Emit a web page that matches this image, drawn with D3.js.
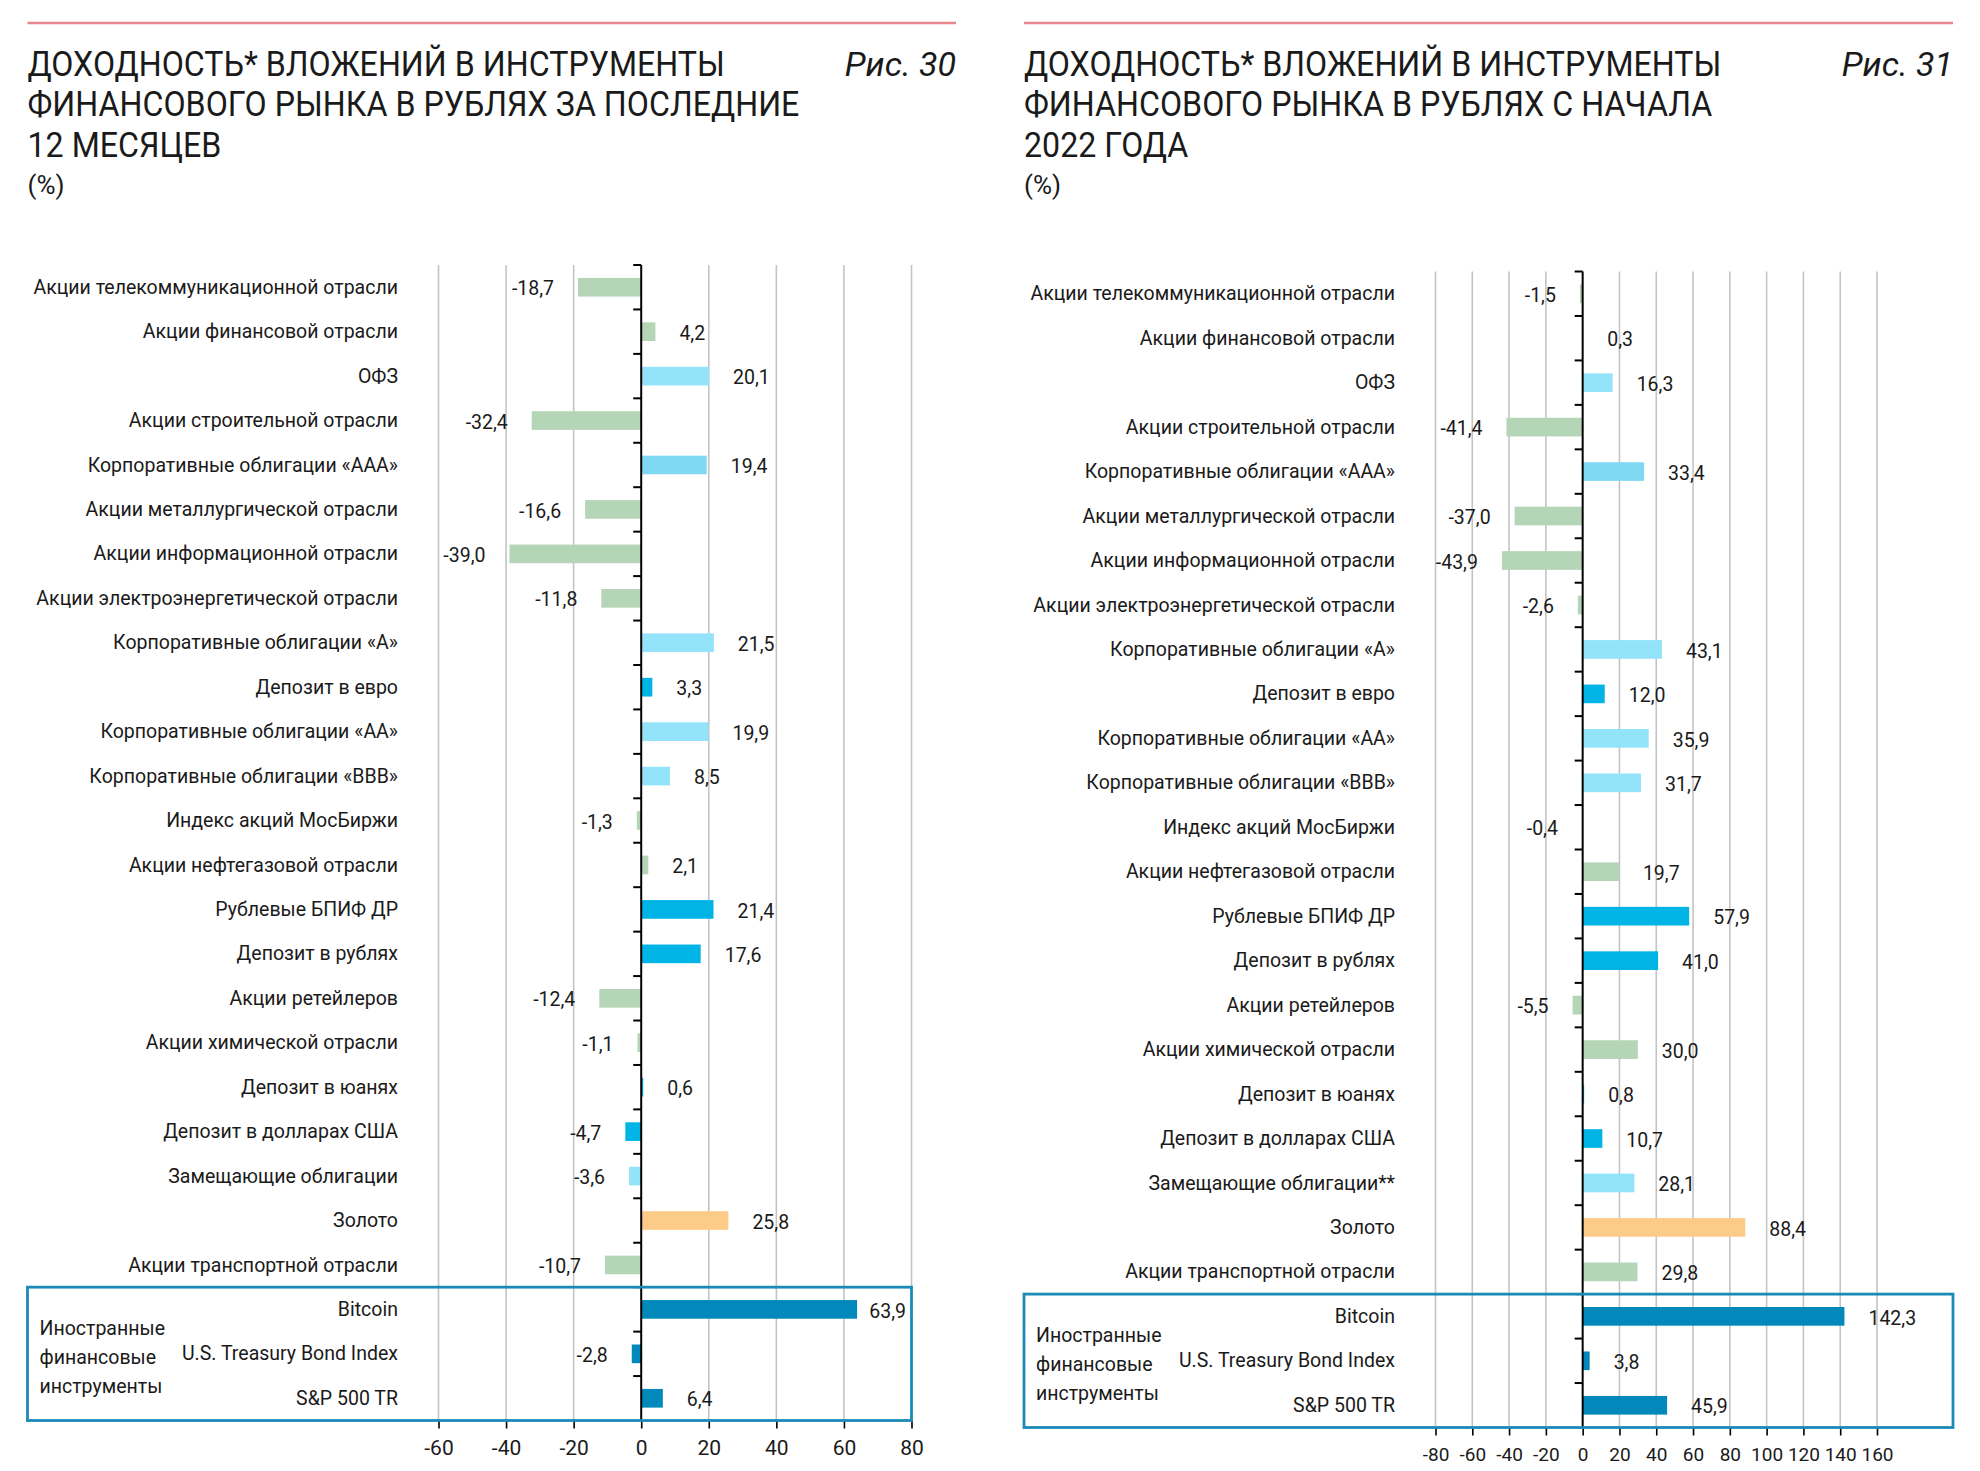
<!DOCTYPE html>
<html>
<head>
<meta charset="utf-8">
<script src="https://cdn.jsdelivr.net/npm/d3@7"></script>
<style>
  body { margin: 0; background: #fff; }
  svg text { fill: #1a1a1a; }
</style>
</head>
<body>
<svg id="chart" width="1980" height="1471"></svg>
<script>
// ---- data ----
const categories12m = [
  "Акции телекоммуникационной отрасли", "Акции финансовой отрасли", "ОФЗ",
  "Акции строительной отрасли", "Корпоративные облигации «AAA»",
  "Акции металлургической отрасли", "Акции информационной отрасли",
  "Акции электроэнергетической отрасли", "Корпоративные облигации «A»",
  "Депозит в евро", "Корпоративные облигации «AA»", "Корпоративные облигации «BBB»",
  "Индекс акций МосБиржи", "Акции нефтегазовой отрасли", "Рублевые БПИФ ДР",
  "Депозит в рублях", "Акции ретейлеров", "Акции химической отрасли",
  "Депозит в юанях", "Депозит в долларах США", "Замещающие облигации",
  "Золото", "Акции транспортной отрасли",
  "Bitcoin", "U.S. Treasury Bond Index", "S&P 500 TR"
];
const categoriesYtd = categories12m.map(c => c === "Замещающие облигации" ? "Замещающие облигации**" : c);

const returns12m = [-18.7, 4.2, 20.1, -32.4, 19.4, -16.6, -39.0, -11.8, 21.5, 3.3, 19.9, 8.5,
  -1.3, 2.1, 21.4, 17.6, -12.4, -1.1, 0.6, -4.7, -3.6, 25.8, -10.7, 63.9, -2.8, 6.4];
const returnsYtd = [-1.5, 0.3, 16.3, -41.4, 33.4, -37.0, -43.9, -2.6, 43.1, 12.0, 35.9, 31.7,
  -0.4, 19.7, 57.9, 41.0, -5.5, 30.0, 0.8, 10.7, 28.1, 88.4, 29.8, 142.3, 3.8, 45.9];

const assetClass = ["stock", "stock", "bond", "stock", "bondAAA", "stock", "stock", "stock",
  "bond", "deposit", "bond", "bond", "stock", "stock", "deposit", "deposit", "stock", "stock",
  "deposit", "deposit", "bond", "gold", "stock", "foreign", "foreign", "foreign"];

const foreignLabel = ["Иностранные", "финансовые", "инструменты"];
const ticks12m = [-60, -40, -20, 0, 20, 40, 60, 80];
const ticksYtd = [-80, -60, -40, -20, 0, 20, 40, 60, 80, 100, 120, 140, 160];

const svg = d3.select("#chart");
const labelFont = "Roboto, 'Noto Sans', sans-serif";
const numFont = "Roboto, 'Noto Sans', sans-serif";
const titleFont = "Roboto, 'Noto Sans', sans-serif";

const colour = d3.scaleOrdinal()
  .domain(["stock", "bond", "bondAAA", "deposit", "gold", "foreign"])
  .range(["#b5d5b7", "#93e4fa", "#80d9f2", "#00b5e6", "#fdcb88", "#0288ba"]);

const fmt = v => d3.format(".1f")(v).replace(".", ",").replace("−", "-");

function drawHeader(p) {
  const g = svg.append("g");
  g.append("line")
    .attr("x1", p.left).attr("x2", p.right)
    .attr("y1", 23).attr("y2", 23)
    .attr("stroke", "#e8858f").attr("stroke-width", 2.5);
  g.selectAll("text.title")
    .data(p.title)
    .enter().append("text")
      .attr("class", "title")
      .attr("transform", (d, i) => "translate(" + p.left + "," + (76 + i * 40.4) + ") scale(0.92,1)")
      .style("font-family", titleFont)
      .style("font-size", "35px")
      .text(d => d);
  g.append("text")
    .attr("x", p.right).attr("y", 76)
    .attr("text-anchor", "end")
    .style("font-family", titleFont)
    .style("font-size", "34px")
    .style("font-style", "italic")
    .text(p.fig);
  g.append("text")
    .attr("x", p.left).attr("y", 194)
    .style("font-family", titleFont)
    .style("font-size", "26px")
    .text("(%)");
}

function drawPanel(p, categories, values) {
  const g = svg.append("g");

  const x = d3.scaleLinear().domain(p.domain).range(p.range);
  const y = d3.scaleBand()
    .domain(categories)
    .range([p.top, p.bottom])
    .paddingInner(0.58).paddingOuter(0.29);
  const step = y.step();

  // vertical gridlines
  g.selectAll("line.grid")
    .data(p.ticks.filter(t => t !== 0))
    .enter().append("line")
      .attr("x1", d => x(d)).attr("x2", d => x(d))
      .attr("y1", p.top).attr("y2", p.bottom)
      .attr("stroke", "#c4c4c4").attr("stroke-width", 1.6);

  // bottom axis: ticks + labels only
  const axis = g.append("g")
    .attr("transform", "translate(0," + p.bottom + ")")
    .call(d3.axisBottom(x).tickValues(p.ticks).tickSize(8).tickPadding(12).tickFormat(d => String(d)));
  axis.select(".domain").remove();
  axis.selectAll(".tick line").attr("stroke", "#000").attr("stroke-width", 1.6);
  axis.selectAll(".tick text")
    .style("font-family", numFont).style("font-size", p.axisFont).attr("fill", "#1a1a1a");

  // bars
  g.selectAll("rect.bar")
    .data(values)
    .enter().append("rect")
      .attr("x", d => x(Math.min(0, d)))
      .attr("y", (d, i) => y(categories[i]))
      .attr("width", d => Math.abs(x(d) - x(0)))
      .attr("height", y.bandwidth())
      .attr("fill", (d, i) => colour(assetClass[i]));

  // zero axis with small ticks on the left
  g.append("line")
    .attr("x1", x(0)).attr("x2", x(0))
    .attr("y1", p.top).attr("y2", p.bottom)
    .attr("stroke", "#000").attr("stroke-width", 2);
  g.selectAll("line.ytick")
    .data(d3.range(categories.length))
    .enter().append("line")
      .attr("x1", x(0) - 8).attr("x2", x(0))
      .attr("y1", i => p.top + i * step).attr("y2", i => p.top + i * step)
      .attr("stroke", "#000").attr("stroke-width", 2);

  // category labels (font is a bit narrower in the original, hence the x-scale)
  g.selectAll("text.cat")
    .data(categories)
    .enter().append("text")
      .attr("transform", d => "translate(" + p.labelRight + "," + (y(d) + y.bandwidth() / 2 + 1) + ") scale(0.93,1)")
      .attr("text-anchor", "end")
      .attr("dominant-baseline", "middle")
      .style("font-family", labelFont)
      .style("font-size", "21px")
      .text(d => d);

  // value labels
  g.selectAll("text.val")
    .data(values)
    .enter().append("text")
      .attr("y", (d, i) => y(categories[i]) + y.bandwidth() / 2 + 3)
      .attr("dominant-baseline", "middle")
      .style("font-family", numFont)
      .style("font-size", "19.5px")
      .text(d => fmt(d))
      .each(function(d) {
        const w = this.getComputedTextLength();
        let tx = d >= 0 ? x(d) + 24 : x(d) - 24 - w;
        if (tx + w > p.labelMax) tx = p.labelMax - w;
        d3.select(this).attr("x", tx);
      });

  // frame for foreign instruments
  const n = categories.length;
  g.append("rect")
    .attr("x", p.left)
    .attr("y", p.top + (n - 3) * step)
    .attr("width", p.boxRight - p.left)
    .attr("height", 3 * step)
    .attr("fill", "none")
    .attr("stroke", "#1b8ab8").attr("stroke-width", 2.8);
  g.selectAll("text.grp")
    .data(foreignLabel)
    .enter().append("text")
      .attr("transform", (d, i) => "translate(" + (p.left + 12) + "," + (p.top + (n - 3) * step + 42 + i * 29) + ") scale(0.93,1)")
      .attr("dominant-baseline", "middle")
      .style("font-family", labelFont)
      .style("font-size", "21px")
      .text(d => d);
}

const panel12m = {
  left: 27.5, right: 956, boxRight: 911.5, labelRight: 398, labelMax: 906,
  domain: [-60, 80], range: [438.5, 911.5], ticks: ticks12m, axisFont: "21px",
  top: 265, bottom: 1420.5, fig: "Рис. 30",
  title: ["ДОХОДНОСТЬ* ВЛОЖЕНИЙ В ИНСТРУМЕНТЫ", "ФИНАНСОВОГО РЫНКА В РУБЛЯХ ЗА ПОСЛЕДНИЕ", "12 МЕСЯЦЕВ"]
};
const panelYtd = {
  left: 1024, right: 1953, boxRight: 1953, labelRight: 1395, labelMax: 1975,
  domain: [-80, 160], range: [1435.5, 1877], ticks: ticksYtd, axisFont: "19px",
  top: 271.5, bottom: 1427.5, fig: "Рис. 31",
  title: ["ДОХОДНОСТЬ* ВЛОЖЕНИЙ В ИНСТРУМЕНТЫ", "ФИНАНСОВОГО РЫНКА В РУБЛЯХ С НАЧАЛА", "2022 ГОДА"]
};

drawHeader(panel12m);
drawHeader(panelYtd);
drawPanel(panel12m, categories12m, returns12m);
drawPanel(panelYtd, categoriesYtd, returnsYtd);
</script>
</body>
</html>
